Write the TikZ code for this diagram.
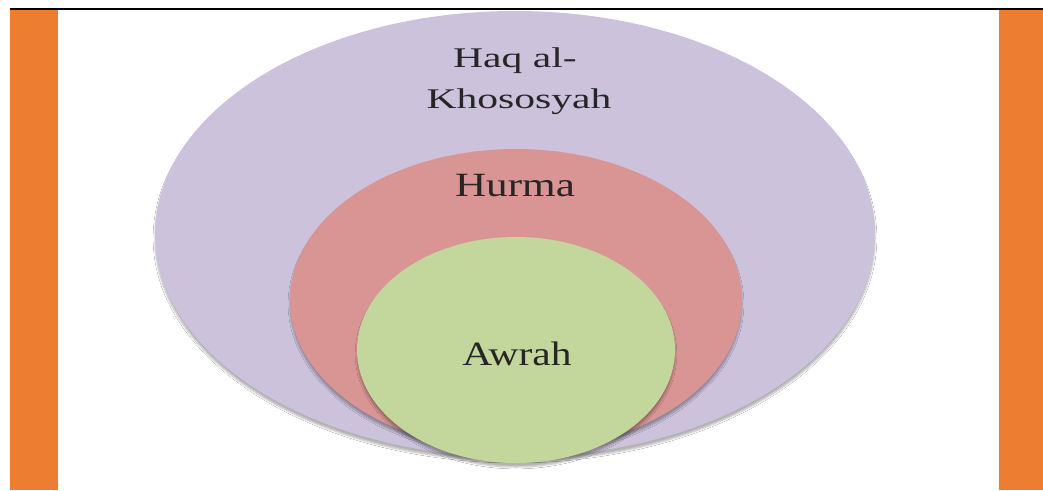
\documentclass[tikz,border=0pt]{standalone}
\usepackage{fontspec}
\setmainfont{Liberation Serif}
\usetikzlibrary{shapes.geometric,shadows.blur}
\definecolor{barorange}{HTML}{ED7D31}
\definecolor{outerfill}{HTML}{CCC2DC}
\definecolor{midfill}{HTML}{D99594}
\definecolor{innerfill}{HTML}{C3D69B}
\tikzset{
  ring/.style={ellipse, inner sep=0pt, draw=none,
    blur shadow={shadow xshift=0pt, shadow yshift=-4pt, shadow blur steps=6, shadow opacity=30}},
  label/.style={text=black!85, align=center, inner sep=0pt},
  small/.style={label, font=\fontsize{28.5}{34}\selectfont},
  big/.style={label, font=\fontsize{34}{40}\selectfont},
  bar/.style={fill=barorange, draw=none}
}
\newcommand{\wide}[2]{\scalebox{#1}[1]{#2}}
\begin{document}
\begin{tikzpicture}[x=1pt,y=-1pt]
  \useasboundingbox (0,0) rectangle (1043,490);
  \fill[white] (0,0) rectangle (1043,490);
  % side bars and top rule
  \fill[bar] (10,9) rectangle (58,490);
  \fill[bar] (999,9) rectangle (1043,490);
  \draw[line width=2.2pt] (10,9) -- (1043,9);
  % nested sets
  \node[ring, fill=outerfill, minimum width=720pt, minimum height=446pt] (outer) at (515,234) {};
  \node[ring, fill=midfill, minimum width=452pt, minimum height=302pt] (mid) at (516,300) {};
  \node[ring, fill=innerfill, minimum width=318pt, minimum height=226pt] (inner) at (516,350) {};
  % labels
  \node[small, anchor=base] (haq) at (515,67) {\wide{1.46}{Haq al-}};
  \node[small, anchor=base] (khos) at (519,108) {\wide{1.46}{Khososyah}};
  \node[big, anchor=base] (hurma) at (515,196) {\wide{1.27}{Hurma}};
  \node[big, anchor=base] (awrah) at (517,365) {\wide{1.22}{Awrah}};
\end{tikzpicture}
\end{document}
